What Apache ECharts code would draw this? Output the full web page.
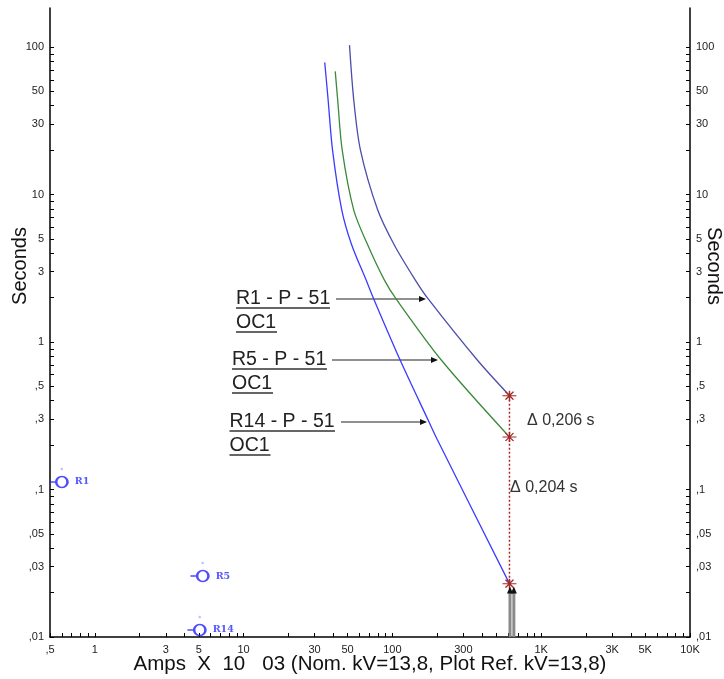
<!DOCTYPE html>
<html><head><meta charset="utf-8">
<script src="https://cdn.jsdelivr.net/npm/echarts@6/dist/echarts.min.js"></script>
<style>html,body{margin:0;padding:0;background:#fff}#c{width:724px;height:679px}</style>
</head><body><div id="c"></div>
<script>
// ---- data ----
const r1Amps = [51.5, 55.0, 61.0, 79.7, 103, 142.6, 174, 372, 612];
const r1Secs = [103, 43.7, 20.0, 7.85, 4.55, 2.63, 1.96, 0.755, 0.433];
const r5Amps = [41.3, 42.9, 46.0, 55.0, 68.3, 88.4, 105.9, 213, 612];
const r5Secs = [68.4, 43.7, 20.0, 7.85, 4.55, 2.63, 1.96, 0.755, 0.227];
const r14Amps = [35.1, 37.0, 39.6, 45.7, 53.3, 66.6, 74.9, 112.7, 176, 201, 612];
const r14Secs = [78.7, 43.7, 20.0, 7.85, 4.55, 2.63, 1.96, 0.755, 0.288, 0.2166, 0.023];
const faultAmps = 612;
const marginSecs = [0.433, 0.227, 0.023];
const arrowAmps = [617, 655];
const arrowSecs = [0.01, 0.0202];
const relayNames = ['R1', 'R5', 'R14'];
const relayAmps = [0.60, 5.31, 5.07];
const relaySecs = [0.1124, 0.0259, 0.01116];
const xTickVals = [0.5, 1, 3, 5, 10, 30, 50, 100, 300, 1000, 3000, 5000, 10000];
const xTickText = [',5', '1', '3', '5', '10', '30', '50', '100', '300', '1K', '3K', '5K', '10K'];
const yTickVals = [0.01, 0.03, 0.05, 0.1, 0.3, 0.5, 1, 3, 5, 10, 30, 50, 100];
const yTickText = [',01', ',03', ',05', ',1', ',3', ',5', '1', '3', '5', '10', '30', '50', '100'];
const xDecades = [0.1, 1, 10, 100, 1000, 10000];
const yDecades = [0.01, 0.1, 1, 10, 100];

// ---- helpers ----
function minorTicks(decades, lo, hi) {
  const out = [];
  decades.forEach(d => { for (let k = 1; k <= 9; k++) { const v = +(d * k).toPrecision(6); if (v >= lo && v <= hi) out.push(v); } });
  return out;
}
function fmt(vals, texts) {
  return function (v) {
    for (let i = 0; i < vals.length; i++) if (Math.abs(Math.log10(v) - Math.log10(vals[i])) < 1e-6) return texts[i];
    return '';
  };
}
const zip = (a, b) => a.map((v, i) => [v, b[i]]);
const FONT = 'Liberation Sans, Arial, sans-serif';

const chart = echarts.init(document.getElementById('c'), null, { renderer: 'canvas' });

const yAxisBase = (pos) => ({
  type: 'log', logBase: 10, min: 0.01, max: 184, position: pos,
  axisLine: { show: true, lineStyle: { color: '#000', width: 1.5 } },
  axisTick: { show: true, inside: true, length: 4, customValues: minorTicks(yDecades, 0.01, 100), lineStyle: { color: '#000', width: 1 } },
  axisLabel: { customValues: yTickVals, formatter: fmt(yTickVals, yTickText), margin: 6, color: '#222', fontSize: 11, fontFamily: FONT, hideOverlap: false },
  splitLine: { show: false }
});

const relaySymbol = 'path://M-12,0L-5.5,0M5.5,0A5.5,5.5,0,1,1,-5.5,0A5.5,5.5,0,1,1,5.5,0';
const starSymbol = 'path://M-7,0L7,0M0,-5L0,5M-4,-4L4,4M4,-4L-4,4';

function callout(label, x, cy, w1, w2, ax1, ax2) {
  const col = '#222';
  return [
    { type: 'text', style: { text: label, x: x, y: cy, font: '19.5px ' + FONT, fill: col, align: 'left', verticalAlign: 'middle' } },
    { type: 'line', shape: { x1: x, y1: cy + 9, x2: x + w1, y2: cy + 9 }, style: { stroke: '#333', lineWidth: 1.6 } },
    { type: 'text', style: { text: 'OC1', x: x, y: cy + 24, font: '19.5px ' + FONT, fill: col, align: 'left', verticalAlign: 'middle' } },
    { type: 'line', shape: { x1: x, y1: cy + 33, x2: x + w2, y2: cy + 33 }, style: { stroke: '#333', lineWidth: 1.6 } },
    { type: 'line', shape: { x1: ax1, y1: cy, x2: ax2 - 5, y2: cy }, style: { stroke: '#222', lineWidth: 1.2 } },
    { type: 'polygon', shape: { points: [[ax2, cy], [ax2 - 7, cy - 3], [ax2 - 7, cy + 3]] }, style: { fill: '#111' } }
  ];
}

const option = {
  animation: false,
  backgroundColor: '#fff',
  grid: { left: 50, right: 34, top: 8, bottom: 42, outerBoundsMode: 'none', containLabel: false },
  xAxis: {
    type: 'log', logBase: 10, min: 0.5, max: 10000,
    axisLine: { show: true, lineStyle: { color: '#000', width: 1.5 } },
    axisTick: { show: true, inside: true, length: 4, customValues: minorTicks(xDecades, 0.5, 10000), lineStyle: { color: '#000', width: 1 } },
    axisLabel: { customValues: xTickVals, formatter: fmt(xTickVals, xTickText), margin: 7, color: '#222', fontSize: 11, fontFamily: FONT, hideOverlap: false },
    splitLine: { show: false },
    name: 'Amps  X  10   03 (Nom. kV=13,8, Plot Ref. kV=13,8)',
    nameLocation: 'middle', nameGap: 17, nameMoveOverlap: false,
    nameTextStyle: { fontSize: 20.5, color: '#111', fontFamily: FONT }
  },
  yAxis: [yAxisBase('left'), yAxisBase('right')],
  series: [
    { type: 'line', name: 'R1', data: zip(r1Amps, r1Secs), smooth: 0.3, showSymbol: false, lineStyle: { color: '#4c4caa', width: 1.3 } },
    { type: 'line', name: 'R5', data: zip(r5Amps, r5Secs), smooth: 0.3, showSymbol: false, lineStyle: { color: '#3a8a3a', width: 1.3 } },
    { type: 'line', name: 'R14', data: zip(r14Amps, r14Secs), smooth: 0.3, showSymbol: false, lineStyle: { color: '#3b3bff', width: 1.3 } },
    { type: 'line', data: marginSecs.map(s => [faultAmps, s]), showSymbol: true, symbol: starSymbol, symbolSize: [14, 10],
      lineStyle: { color: '#a52a2a', width: 1.5, type: [2, 2] },
      itemStyle: { color: 'none', borderColor: '#a52a2a', borderWidth: 1.2 } },
    ...arrowAmps.map(a => ({ type: 'line', data: arrowSecs.map(s => [a, s]), showSymbol: true,
      symbol: (v, p) => (p.dataIndex === 1 ? 'triangle' : 'none'), symbolSize: [6, 7], symbolOffset: [0, -2],
      lineStyle: { color: '#8a8a8a', width: 3 }, itemStyle: { color: '#111' } })),
    { type: 'scatter', data: relayNames.map((n, i) => ({ name: n, value: [relayAmps[i], relaySecs[i]] })),
      symbol: relaySymbol, symbolSize: [18, 11], symbolOffset: [-3.25, 0],
      itemStyle: { color: 'rgba(0,0,0,0)', borderColor: '#2020ff', borderWidth: 2 },
      label: { show: true, position: 'right', distance: 6, formatter: p => p.name, color: '#2a2aff', fontSize: 9.5, fontWeight: 'bold', fontFamily: 'DejaVu Serif, serif' } },
    { type: 'scatter', data: relayNames.map((n, i) => [relayAmps[i], relaySecs[i]]), symbol: 'circle', symbolSize: 2.5, symbolOffset: [0, -13],
      itemStyle: { color: '#aab0ff' } }
  ],
  graphic: [
    { type: 'text', rotation: Math.PI / 2, x: 20, y: 266, style: { text: 'Seconds', font: '20px ' + FONT, fill: '#111', align: 'center', verticalAlign: 'middle' } },
    { type: 'text', rotation: -Math.PI / 2, x: 714, y: 266, style: { text: 'Seconds', font: '20px ' + FONT, fill: '#111', align: 'center', verticalAlign: 'middle' } },
    ...callout('R1 - P - 51', 236, 299, 94, 41, 336, 426),
    ...callout('R5 - P - 51', 232, 360, 95, 41, 332, 438),
    ...callout('R14 - P - 51', 229.5, 422, 105.5, 41, 341, 427),
    { type: 'text', style: { text: 'Δ 0,206 s', x: 527, y: 421, font: '16px ' + FONT, fill: '#333', align: 'left', verticalAlign: 'middle' } },
    { type: 'text', style: { text: 'Δ 0,204 s', x: 510, y: 488, font: '16px ' + FONT, fill: '#333', align: 'left', verticalAlign: 'middle' } }
  ]
};
chart.setOption(option);
</script>
</body></html>
